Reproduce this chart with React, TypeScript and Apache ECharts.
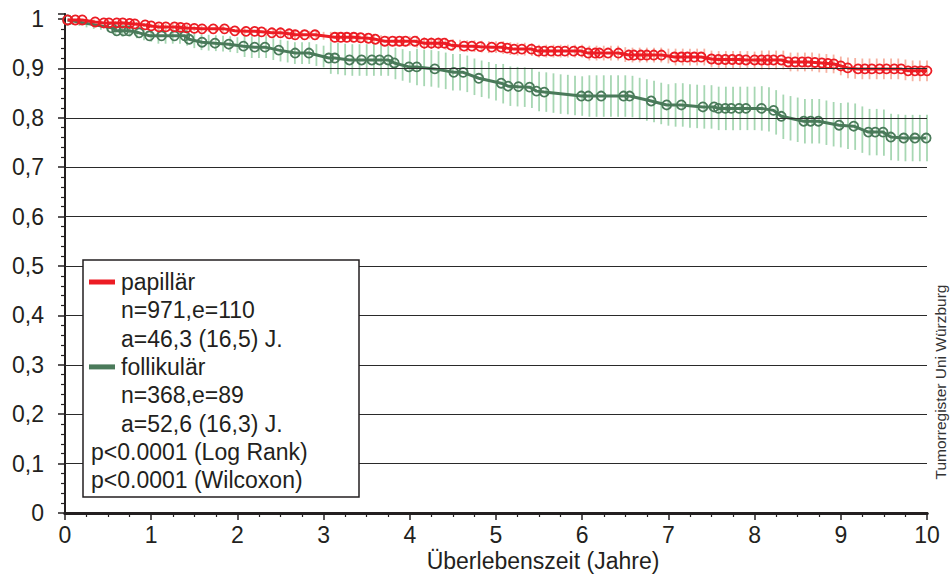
import React, { useEffect, useRef } from "react";
import * as echarts from "echarts";

// Kaplan-Meier curve vertices / censor marks (years, survival)
const papillarT = [0.03, 0.12, 0.2, 0.35, 0.45, 0.51, 0.6, 0.67, 0.75, 0.81, 0.93, 1.0, 1.09, 1.17, 1.27, 1.34, 1.41, 1.5, 1.59, 1.72, 1.85, 1.97, 2.1, 2.2, 2.28, 2.4, 2.5, 2.6, 2.67, 2.78, 2.9, 3.13, 3.2, 3.27, 3.35, 3.43, 3.52, 3.6, 3.71, 3.8, 3.88, 3.95, 4.06, 4.17, 4.25, 4.33, 4.4, 4.48, 4.63, 4.72, 4.82, 4.95, 5.06, 5.13, 5.21, 5.3, 5.41, 5.49, 5.56, 5.64, 5.72, 5.8, 5.9, 5.99, 6.07, 6.15, 6.2, 6.3, 6.42, 6.54, 6.6, 6.68, 6.75, 6.83, 6.92, 7.07, 7.15, 7.22, 7.3, 7.38, 7.5, 7.58, 7.66, 7.74, 7.82, 7.9, 8.0, 8.08, 8.15, 8.22, 8.31, 8.39, 8.47, 8.55, 8.62, 8.7, 8.78, 8.85, 8.92, 9.0, 9.08, 9.2, 9.28, 9.36, 9.45, 9.53, 9.62, 9.7, 9.78, 9.86, 9.93, 10.0];
const papillarS = [0.998, 0.998, 0.998, 0.994, 0.992, 0.992, 0.992, 0.992, 0.991, 0.99, 0.988, 0.986, 0.984, 0.984, 0.984, 0.983, 0.982, 0.981, 0.98, 0.98, 0.98, 0.976, 0.975, 0.975, 0.974, 0.972, 0.972, 0.97, 0.968, 0.968, 0.968, 0.963, 0.963, 0.963, 0.963, 0.962, 0.961, 0.959, 0.955, 0.955, 0.955, 0.955, 0.955, 0.951, 0.951, 0.951, 0.951, 0.947, 0.945, 0.945, 0.944, 0.943, 0.943, 0.941, 0.939, 0.939, 0.939, 0.935, 0.935, 0.935, 0.935, 0.935, 0.935, 0.935, 0.931, 0.931, 0.931, 0.931, 0.931, 0.927, 0.927, 0.927, 0.927, 0.927, 0.927, 0.923, 0.923, 0.923, 0.923, 0.923, 0.919, 0.918, 0.918, 0.918, 0.918, 0.917, 0.917, 0.917, 0.917, 0.917, 0.917, 0.913, 0.913, 0.913, 0.913, 0.912, 0.911, 0.91, 0.909, 0.905, 0.901, 0.899, 0.899, 0.899, 0.899, 0.899, 0.899, 0.899, 0.895, 0.895, 0.895, 0.895];

const follikularT = [0.03, 0.54, 0.6, 0.68, 0.74, 0.86, 0.98, 1.12, 1.27, 1.39, 1.44, 1.59, 1.74, 1.9, 2.07, 2.2, 2.32, 2.48, 2.67, 2.83, 3.06, 3.13, 3.3, 3.44, 3.56, 3.65, 3.75, 3.82, 3.99, 4.08, 4.29, 4.51, 4.62, 4.8, 5.06, 5.14, 5.26, 5.39, 5.47, 5.56, 5.99, 6.07, 6.22, 6.48, 6.55, 6.8, 6.98, 7.15, 7.4, 7.53, 7.58, 7.66, 7.73, 7.82, 7.9, 8.08, 8.22, 8.31, 8.57, 8.65, 8.74, 8.98, 9.15, 9.32, 9.4, 9.49, 9.58, 9.73, 9.86, 9.99];
const follikularS = [0.998, 0.982, 0.976, 0.976, 0.976, 0.972, 0.966, 0.966, 0.966, 0.966, 0.959, 0.953, 0.951, 0.949, 0.945, 0.943, 0.943, 0.937, 0.931, 0.931, 0.921, 0.921, 0.917, 0.917, 0.917, 0.917, 0.917, 0.911, 0.903, 0.903, 0.899, 0.892, 0.892, 0.88, 0.87, 0.864, 0.863, 0.862, 0.854, 0.852, 0.844, 0.844, 0.844, 0.844, 0.844, 0.834, 0.826, 0.826, 0.822, 0.822, 0.819, 0.819, 0.819, 0.819, 0.819, 0.819, 0.815, 0.803, 0.793, 0.793, 0.793, 0.785, 0.783, 0.771, 0.771, 0.771, 0.761, 0.759, 0.759, 0.759];

// Monthly confidence bounds (months 1..120)
const papillarLo = [0.994, 0.994, 0.993, 0.991, 0.989, 0.988, 0.988, 0.988, 0.987, 0.986, 0.984, 0.982, 0.978, 0.978, 0.978, 0.977, 0.976, 0.975, 0.974, 0.974, 0.974, 0.974, 0.972, 0.97, 0.967, 0.967, 0.966, 0.965, 0.964, 0.964, 0.962, 0.96, 0.96, 0.96, 0.96, 0.958, 0.954, 0.953, 0.953, 0.953, 0.952, 0.951, 0.95, 0.947, 0.945, 0.945, 0.945, 0.945, 0.942, 0.939, 0.939, 0.939, 0.938, 0.935, 0.934, 0.933, 0.933, 0.932, 0.931, 0.931, 0.929, 0.927, 0.926, 0.926, 0.925, 0.922, 0.922, 0.922, 0.922, 0.922, 0.922, 0.922, 0.916, 0.916, 0.916, 0.916, 0.916, 0.913, 0.912, 0.912, 0.912, 0.912, 0.912, 0.91, 0.906, 0.906, 0.906, 0.906, 0.906, 0.902, 0.901, 0.901, 0.901, 0.901, 0.901, 0.9, 0.898, 0.898, 0.898, 0.898, 0.894, 0.894, 0.894, 0.894, 0.892, 0.891, 0.89, 0.886, 0.88, 0.879, 0.878, 0.878, 0.878, 0.878, 0.878, 0.878, 0.876, 0.874, 0.874, 0.874];
const papillarHi = [1.0, 1.0, 1.0, 0.999, 0.997, 0.996, 0.996, 0.996, 0.995, 0.994, 0.992, 0.99, 0.99, 0.99, 0.99, 0.989, 0.988, 0.987, 0.986, 0.986, 0.986, 0.986, 0.984, 0.982, 0.983, 0.983, 0.982, 0.981, 0.98, 0.98, 0.978, 0.976, 0.976, 0.976, 0.976, 0.974, 0.974, 0.973, 0.973, 0.973, 0.972, 0.971, 0.97, 0.967, 0.965, 0.965, 0.965, 0.965, 0.966, 0.963, 0.963, 0.963, 0.962, 0.959, 0.958, 0.957, 0.957, 0.956, 0.955, 0.955, 0.955, 0.953, 0.952, 0.952, 0.951, 0.948, 0.948, 0.948, 0.948, 0.948, 0.948, 0.948, 0.946, 0.946, 0.946, 0.946, 0.946, 0.943, 0.942, 0.942, 0.942, 0.942, 0.942, 0.94, 0.94, 0.94, 0.94, 0.94, 0.94, 0.936, 0.935, 0.935, 0.935, 0.935, 0.935, 0.934, 0.936, 0.936, 0.936, 0.936, 0.932, 0.932, 0.932, 0.932, 0.93, 0.929, 0.928, 0.924, 0.922, 0.921, 0.92, 0.92, 0.92, 0.92, 0.92, 0.92, 0.918, 0.916, 0.916, 0.916];
const follikularLo = [0.988, 0.986, 0.983, 0.98, 0.978, 0.975, 0.966, 0.964, 0.964, 0.961, 0.957, 0.954, 0.95, 0.95, 0.95, 0.95, 0.946, 0.941, 0.937, 0.936, 0.935, 0.934, 0.933, 0.931, 0.923, 0.921, 0.921, 0.921, 0.917, 0.914, 0.912, 0.909, 0.909, 0.909, 0.905, 0.902, 0.889, 0.888, 0.886, 0.885, 0.885, 0.885, 0.885, 0.885, 0.885, 0.878, 0.875, 0.871, 0.866, 0.864, 0.863, 0.861, 0.858, 0.855, 0.855, 0.852, 0.846, 0.842, 0.839, 0.835, 0.829, 0.824, 0.823, 0.822, 0.82, 0.813, 0.812, 0.81, 0.808, 0.807, 0.805, 0.804, 0.802, 0.802, 0.802, 0.802, 0.802, 0.802, 0.801, 0.797, 0.794, 0.791, 0.787, 0.784, 0.782, 0.782, 0.78, 0.779, 0.778, 0.778, 0.775, 0.775, 0.775, 0.775, 0.775, 0.775, 0.774, 0.772, 0.766, 0.757, 0.754, 0.751, 0.748, 0.748, 0.748, 0.745, 0.742, 0.74, 0.737, 0.735, 0.729, 0.724, 0.724, 0.723, 0.714, 0.713, 0.712, 0.712, 0.712, 0.712];
const follikularHi = [1.0, 1.0, 0.999, 0.996, 0.994, 0.991, 0.99, 0.988, 0.988, 0.985, 0.981, 0.978, 0.982, 0.982, 0.982, 0.982, 0.978, 0.973, 0.969, 0.968, 0.967, 0.966, 0.965, 0.963, 0.967, 0.965, 0.965, 0.965, 0.961, 0.958, 0.956, 0.953, 0.953, 0.953, 0.949, 0.946, 0.953, 0.952, 0.95, 0.949, 0.949, 0.949, 0.949, 0.949, 0.949, 0.942, 0.939, 0.935, 0.94, 0.938, 0.937, 0.935, 0.932, 0.929, 0.929, 0.926, 0.92, 0.916, 0.913, 0.909, 0.909, 0.904, 0.903, 0.902, 0.9, 0.893, 0.892, 0.89, 0.888, 0.887, 0.885, 0.884, 0.886, 0.886, 0.886, 0.886, 0.886, 0.886, 0.885, 0.881, 0.878, 0.875, 0.871, 0.868, 0.87, 0.87, 0.868, 0.867, 0.866, 0.866, 0.863, 0.863, 0.863, 0.863, 0.863, 0.863, 0.864, 0.862, 0.856, 0.847, 0.844, 0.841, 0.838, 0.838, 0.838, 0.835, 0.832, 0.83, 0.831, 0.829, 0.823, 0.818, 0.818, 0.817, 0.808, 0.807, 0.806, 0.806, 0.806, 0.806];

// Horizontal grid lines (survival values)
const gridValues = [0.1, 0.2, 0.3, 0.4, 0.5, 0.6, 0.7, 0.8, 0.9];

const legendLines = [
  { text: "papillär", indent: true, swatch: "red" },
  { text: "n=971,e=110", indent: true },
  { text: "a=46,3 (16,5) J.", indent: true },
  { text: "follikulär", indent: true, swatch: "green" },
  { text: "n=368,e=89", indent: true },
  { text: "a=52,6 (16,3) J.", indent: true },
  { text: "p<0.0001 (Log Rank)", indent: false },
  { text: "p<0.0001 (Wilcoxon)", indent: false },
];

const xAxisTitle = "Überlebenszeit (Jahre)";
const sideNote = "Tumorregister Uni Würzburg";

const RED = "#ec1c24";
const GREEN = "#4a7a5a";
const RED_CI = "#f7b2a2";
const GREEN_CI = "#a7d7b3";
const INK = "#231f20";
const FONT = '"Liberation Sans", Arial, sans-serif';

function pairs(t: number[], s: number[]) {
  return t.map((v, i) => [v, s[i]]);
}
function ciData(lo: number[], hi: number[]) {
  return lo.map((v, i) => [(i + 1) / 12, v, hi[i]]);
}

export default function App() {
  const ref = useRef<HTMLDivElement>(null);
  useEffect(() => {
    if (!ref.current) return;
    const chart = echarts.init(ref.current, null, { renderer: "svg" });
    const ciRender = (color: string) => (params: any, api: any) => {
      const a = api.coord([api.value(0), api.value(1)]);
      const b = api.coord([api.value(0), api.value(2)]);
      return {
        type: "line",
        shape: { x1: a[0], y1: a[1], x2: b[0], y2: b[1] },
        style: { stroke: color, lineWidth: 1.8 },
      };
    };
    const yLabel = (v: number) => {
      const r = Math.round(v * 10);
      if (Math.abs(v * 10 - r) > 1e-6) return "";
      if (r === 10) return "1";
      if (r === 0) return "0";
      return "0," + r;
    };
    const graphics: any[] = [
      {
        type: "rect",
        z: 100,
        shape: { x: 83, y: 260, width: 276, height: 237 },
        style: { fill: "#fff", stroke: INK, lineWidth: 1.5 },
      },
    ];
    legendLines.forEach((l, i) => {
      const y = 282 + i * 28.3;
      graphics.push({
        type: "text",
        z: 101,
        x: l.indent ? 121 : 91,
        y,
        style: { text: l.text, font: `23px ${FONT}`, fill: INK, verticalAlign: "middle" },
      });
      if (l.swatch) {
        graphics.push({
          type: "rect",
          z: 101,
          shape: { x: 89, y: y - 2.5, width: 26, height: 5 },
          style: { fill: l.swatch === "red" ? RED : GREEN },
        });
      }
    });
    graphics.push({
      type: "text",
      z: 101,
      x: 940,
      y: 382,
      rotation: Math.PI / 2,
      style: { text: sideNote, font: `15.5px ${FONT}`, fill: "#333", align: "center", verticalAlign: "middle" },
    });
    graphics.push({
      type: "text",
      z: 101,
      x: 543,
      y: 561,
      style: { text: xAxisTitle, font: `23px ${FONT}`, fill: INK, align: "center", verticalAlign: "middle" },
    });

    chart.setOption({
      animation: false,
      backgroundColor: "#fff",
      grid: { left: 65, right: 24, top: 14, bottom: 63 },
      xAxis: [
        {
          type: "value",
          min: 0,
          max: 10,
          interval: 1,
          axisLine: { show: true, lineStyle: { color: INK, width: 3 } },
          axisTick: { show: true, length: 7, lineStyle: { color: INK, width: 1.5 } },
          minorTick: { show: true, splitNumber: 4, length: 4, lineStyle: { color: INK, width: 1.2 } },
          splitLine: { show: false },
          axisLabel: { fontSize: 23, color: INK, fontFamily: FONT, margin: 10 },
        },
        {
          type: "value",
          position: "top",
          min: 0,
          max: 10,
          axisLine: { show: true, lineStyle: { color: INK, width: 3 } },
          axisTick: { show: false },
          axisLabel: { show: false },
          splitLine: { show: false },
        },
      ],
      yAxis: [
        {
          type: "value",
          min: 0,
          max: 1.0101,
          interval: 0.1,
          axisLine: { show: true, lineStyle: { color: INK, width: 1.5 } },
          axisTick: { show: true, length: 7, lineStyle: { color: INK, width: 1.5 } },
          minorTick: { show: true, splitNumber: 5, length: 4, lineStyle: { color: INK, width: 1.2 } },
          splitLine: { show: false },
          axisLabel: { fontSize: 23, color: INK, fontFamily: FONT, margin: 21, formatter: yLabel },
        },
        {
          type: "value",
          position: "right",
          min: 0,
          max: 1.0101,
          axisLine: { show: true, lineStyle: { color: INK, width: 2 } },
          axisTick: { show: false },
          axisLabel: { show: false },
          splitLine: { show: false },
        },
      ],
      series: [
        {
          type: "custom",
          z: 1,
          renderItem: ciRender(GREEN_CI),
          encode: { x: 0, y: [1, 2] },
          data: ciData(follikularLo, follikularHi),
          silent: true,
          markLine: {
            silent: true,
            symbol: ["none", "none"],
            label: { show: false },
            lineStyle: { color: "#2a2a2a", width: 1.2, type: "solid" },
            data: gridValues.map((v) => ({ yAxis: v })),
          },
        },
        {
          type: "custom",
          z: 1,
          renderItem: ciRender(RED_CI),
          encode: { x: 0, y: [1, 2] },
          data: ciData(papillarLo, papillarHi),
          silent: true,
        },
        {
          type: "line",
          z: 3,
          data: pairs(follikularT, follikularS),
          showSymbol: true,
          showAllSymbol: true,
          symbol: "circle",
          symbolSize: 9,
          lineStyle: { color: GREEN, width: 3 },
          itemStyle: { color: "rgba(255,255,255,0)", borderColor: GREEN, borderWidth: 1.8 },
        },
        {
          type: "line",
          z: 4,
          data: pairs(papillarT, papillarS),
          showSymbol: true,
          showAllSymbol: true,
          symbol: "circle",
          symbolSize: 9,
          lineStyle: { color: RED, width: 3 },
          itemStyle: { color: "rgba(255,255,255,0)", borderColor: RED, borderWidth: 1.8 },
        },
      ],
      graphic: graphics,
    });
    return () => chart.dispose();
  }, []);
  return <div ref={ref} style={{ width: 951, height: 576, position: "absolute", left: 0, top: 0 }} />;
}
